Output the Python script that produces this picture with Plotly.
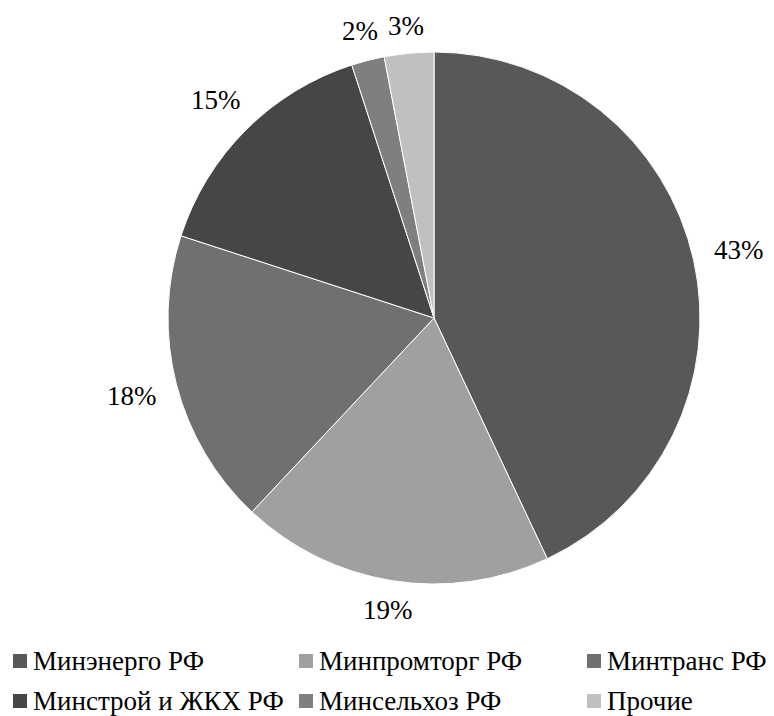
import math
import plotly.graph_objects as go

categories = ["Минэнерго РФ", "Минпромторг РФ", "Минтранс РФ",
              "Минстрой и ЖКХ РФ", "Минсельхоз РФ", "Прочие"]
values = [43, 19, 18, 15, 2, 3]
colors = ["#585858", "#a0a0a0", "#707070", "#464646", "#7f7f7f", "#c0c0c0"]

FONT = "Liberation Serif, Times New Roman, serif"
W, H = 774, 716
OFF = 8  # page body margin
cx, cy, r = 434 - OFF, 318 - OFF, 266

fig = go.Figure(go.Pie(
    labels=categories,
    values=values,
    sort=False,
    direction="clockwise",
    rotation=0,
    marker=dict(colors=colors, line=dict(color="white", width=1)),
    textinfo="none",
    domain=dict(x=[(cx - r) / W, (cx + r) / W], y=[1 - (cy + r) / H, 1 - (cy - r) / H]),
    showlegend=False,
    hoverinfo="label+percent",
))

# percentage labels outside the pie, positioned from the data
total = sum(values)
cum = 0
gap, hh = 18, 8
for v in values:
    mid = (cum + v / 2) / total * 2 * math.pi
    cum += v
    txt = f"{round(v / total * 100)}%"
    hw = 9 * len(txt)
    s, c = math.sin(mid), math.cos(mid)
    d = r + gap + abs(s) * hw + abs(c) * hh
    px = cx + s * d
    py = cy - c * d
    fig.add_annotation(
        x=px / W, y=1 - py / H, xref="paper", yref="paper",
        text=txt, showarrow=False, xanchor="center", yanchor="middle",
        font=dict(family=FONT, size=27, color="black"),
    )

# legend: 3 columns x 2 rows
col_x = [13, 299, 587]
row_y = [661, 701]
sq = 14
for i, (name, col) in enumerate(zip(categories, colors)):
    x0 = col_x[i % 3] - OFF
    yc = row_y[i // 3] - OFF
    fig.add_shape(type="rect", xref="paper", yref="paper",
                  x0=x0 / W, x1=(x0 + sq) / W,
                  y0=1 - (yc + sq / 2) / H, y1=1 - (yc - sq / 2) / H,
                  fillcolor=col, line=dict(width=0))
    fig.add_annotation(
        x=(x0 + sq + 4) / W, y=1 - yc / H, xref="paper", yref="paper",
        text=name, showarrow=False, xanchor="left", yanchor="middle",
        font=dict(family=FONT, size=27, color="black"),
    )

fig.update_layout(
    width=W, height=H,
    margin=dict(l=0, r=0, t=0, b=0),
    paper_bgcolor="white",
    plot_bgcolor="white",
)

fig.write_html("out.html")
